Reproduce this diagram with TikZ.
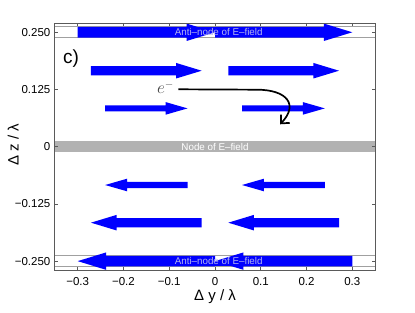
\documentclass[tikz,border=0pt]{standalone}
\usepackage{fontspec}
\setmainfont{Liberation Sans}
\usetikzlibrary{arrows.meta}
\definecolor{fblue}{rgb}{0,0,1}
\definecolor{framec}{RGB}{90,90,90}
\definecolor{bandline}{RGB}{160,160,160}
\definecolor{nodegray}{RGB}{178,178,178}
\definecolor{antitext}{RGB}{180,180,240}
\definecolor{etext}{RGB}{70,70,70}
\newcommand\fieldarrow[6]{%
  \fill[fblue] (#1,{(#3)-(#4)}) -- ({(#2)-(#6)},{(#3)-(#4)}) -- ({(#2)-(#6)},{(#3)-(#5)})
   -- (#2,#3) -- ({(#2)-(#6)},{(#3)+(#5)}) -- ({(#2)-(#6)},{(#3)+(#4)}) -- (#1,{(#3)+(#4)}) -- cycle;}
\tikzset{
  ticklab/.style={font=\fontsize{11.5}{13}\selectfont, inner sep=0pt},
  axlab/.style={font=\fontsize{15}{17}\selectfont, inner sep=0pt},
  bandtext/.style={font=\fontsize{9.8}{11}\selectfont, inner sep=0pt},
}
\begin{document}
\begin{tikzpicture}[x=457.7pt,y=457.7pt]
\useasboundingbox (-215pt,-166.3pt) rectangle (200pt,146.7pt);
% node band
\fill[nodegray] (-0.35,-0.0125) rectangle (0.35,0.0125);
\node[bandtext, text=white] (nodetxt) at (0,0) {Node of E–field};
% anti-node bands lines
\draw[bandline, line width=0.8pt] (-0.35,0.2635) -- (0.35,0.2635);
\draw[bandline, line width=0.8pt] (-0.35,0.2382) -- (0.35,0.2382);
\draw[bandline, line width=0.8pt] (-0.35,-0.2382) -- (0.35,-0.2382);
\draw[bandline, line width=0.8pt] (-0.35,-0.2618) -- (0.35,-0.2618);
% top anti-node arrows
\fieldarrow{-0.3}{0}{0.25}{0.0116}{0.019}{0.062}
\fill[fblue] (-0.062,0.25) rectangle (0,0.2616);
\fieldarrow{0}{0.3}{0.25}{0.0116}{0.019}{0.062}
\node[bandtext, text=antitext] (antitop) at (0.008,0.25) {Anti–node of E–field};
% bottom anti-node arrows
\fieldarrow{0}{-0.3}{-0.25}{0.0116}{0.019}{-0.062}
\fieldarrow{0.3}{0}{-0.25}{0.0116}{0.019}{-0.062}
\fill[fblue] (0,-0.2616) rectangle (0.062,-0.25);
\node[bandtext, text=antitext] (antibot) at (0.008,-0.25) {Anti–node of E–field};
% middle arrows
\fieldarrow{-0.271}{-0.029}{0.166}{0.0102}{0.017}{0.056}
\fieldarrow{0.029}{0.271}{0.166}{0.0102}{0.017}{0.056}
\fieldarrow{-0.240}{-0.060}{0.0837}{0.0066}{0.0138}{0.048}
\fieldarrow{0.059}{0.240}{0.0837}{0.0066}{0.0138}{0.048}
\fieldarrow{-0.060}{-0.240}{-0.0837}{0.0066}{0.0138}{-0.048}
\fieldarrow{0.240}{0.059}{-0.0837}{0.0066}{0.0138}{-0.048}
\fieldarrow{-0.029}{-0.271}{-0.166}{0.0102}{0.017}{-0.056}
\fieldarrow{0.271}{0.029}{-0.166}{0.0102}{0.017}{-0.056}
% electron
\node[text=etext, font=\fontsize{16}{17}\selectfont, inner sep=0pt] (elec) at (-49.5pt,59.5pt) {$e^-$};
\coordinate (estart) at (-36.7pt,57.4pt);
\coordinate (etip) at (65pt,22.4pt);
\draw[line width=1.7pt, -{Straight Barb[length=6.5pt,width=12pt]}]
  (estart) -- (42pt,57pt) .. controls (72pt,57pt) and (84pt,42pt) .. (etip);
% label c)
\node[font=\fontsize{19}{20}\selectfont, inner sep=0pt] (lab) at (-144pt,88.5pt) {c)};
% frame and ticks
\draw[framec, line width=0.9pt] (-0.35,-0.27) rectangle (0.35,0.27);
\foreach \x/\t [count=\i] in {-0.3/−0.3,-0.2/−0.2,-0.1/−0.1,0/0,0.1/0.1,0.2/0.2,0.3/0.3}{
  \draw[framec, line width=0.8pt] (\x,-0.27) -- ++(0,3pt);
  \draw[framec, line width=0.8pt] (\x,0.27) -- ++(0,-3pt);
  \node[ticklab] (xl\i) at ([yshift=-11.6pt]\x,-0.27) {\t};
}
\foreach \y/\t [count=\i] in {-0.25/−0.250,-0.125/−0.125,0/0,0.125/0.125,0.25/0.250}{
  \draw[framec, line width=0.8pt] (-0.35,\y) -- ++(3pt,0);
  \draw[framec, line width=0.8pt] (0.35,\y) -- ++(-3pt,0);
  \node[ticklab, anchor=east] (yl\i) at ([xshift=-4.3pt]-0.35,\y) {\t};
}
\node[axlab] (xlabel) at (0pt,-150pt) {Δ y / λ};
\node[axlab, rotate=90] (ylabel) at (-201.7pt,1.7pt) {Δ z / λ};
\end{tikzpicture}
\end{document}
